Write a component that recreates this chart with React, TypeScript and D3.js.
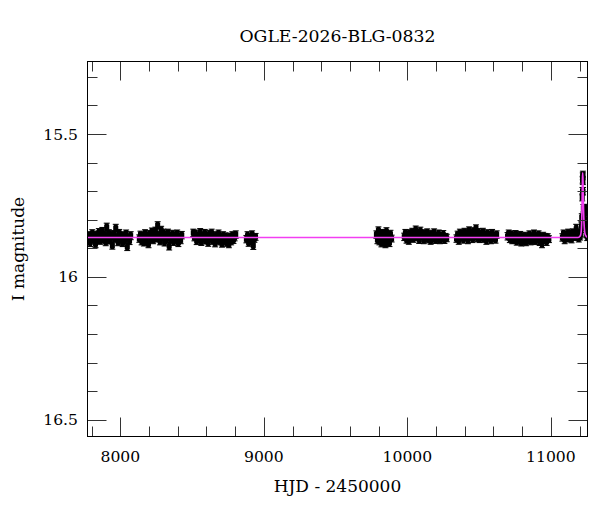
import React from 'react';
import * as d3 from 'd3';

// OGLE photometry, one array per observing season: [HJD-2450000, I mag, error]
const season1 = [
  [7776, 15.872, 0.012], [7783, 15.855, 0.013], [7790, 15.880, 0.014], [7797, 15.862, 0.012],
  [7804, 15.848, 0.013], [7812, 15.870, 0.012], [7819, 15.858, 0.014], [7827, 15.885, 0.013],
  [7834, 15.852, 0.012], [7842, 15.866, 0.013], [7850, 15.845, 0.014], [7858, 15.874, 0.012],
  [7866, 15.860, 0.013], [7874, 15.840, 0.013], [7882, 15.868, 0.014], [7890, 15.852, 0.012],
  [7898, 15.878, 0.013], [7905, 15.826, 0.014], [7912, 15.862, 0.012], [7920, 15.848, 0.013],
  [7928, 15.873, 0.012], [7936, 15.856, 0.014], [7944, 15.890, 0.013], [7952, 15.850, 0.012],
  [7960, 15.866, 0.013], [7968, 15.830, 0.014], [7976, 15.860, 0.012], [7984, 15.878, 0.013],
  [7992, 15.846, 0.012], [8000, 15.868, 0.014], [8008, 15.855, 0.013], [8016, 15.882, 0.012],
  [8024, 15.858, 0.013], [8032, 15.870, 0.014], [8040, 15.848, 0.012], [8048, 15.895, 0.013],
  [8056, 15.862, 0.012], [8064, 15.874, 0.013], [8072, 15.856, 0.014],
];
const season2 = [
  [8132, 15.866, 0.013], [8140, 15.852, 0.012], [8148, 15.874, 0.014], [8156, 15.858, 0.013],
  [8164, 15.880, 0.012], [8172, 15.848, 0.013], [8180, 15.868, 0.014], [8188, 15.856, 0.012],
  [8196, 15.885, 0.013], [8204, 15.850, 0.012], [8212, 15.864, 0.014], [8220, 15.842, 0.013],
  [8228, 15.872, 0.012], [8236, 15.855, 0.013], [8244, 15.840, 0.014], [8252, 15.866, 0.012],
  [8260, 15.820, 0.013], [8268, 15.852, 0.012], [8276, 15.874, 0.014], [8284, 15.836, 0.013],
  [8292, 15.860, 0.012], [8300, 15.846, 0.013], [8308, 15.878, 0.014], [8316, 15.854, 0.012],
  [8324, 15.866, 0.013], [8332, 15.845, 0.012], [8340, 15.892, 0.014], [8348, 15.858, 0.013],
  [8356, 15.870, 0.012], [8364, 15.850, 0.013], [8372, 15.876, 0.014], [8380, 15.856, 0.012],
  [8388, 15.866, 0.013], [8396, 15.848, 0.012], [8404, 15.880, 0.014], [8412, 15.860, 0.013],
  [8420, 15.872, 0.012], [8428, 15.854, 0.013],
];
const season3 = [
  [8508, 15.846, 0.013], [8516, 15.862, 0.012], [8524, 15.850, 0.014], [8532, 15.874, 0.013],
  [8540, 15.856, 0.012], [8548, 15.868, 0.013], [8556, 15.845, 0.014], [8564, 15.878, 0.012],
  [8572, 15.858, 0.013], [8580, 15.866, 0.012], [8588, 15.848, 0.014], [8596, 15.872, 0.013],
  [8604, 15.855, 0.012], [8612, 15.880, 0.013], [8620, 15.852, 0.014], [8628, 15.866, 0.012],
  [8636, 15.846, 0.013], [8644, 15.874, 0.012], [8652, 15.860, 0.014], [8660, 15.882, 0.013],
  [8668, 15.854, 0.012], [8676, 15.870, 0.013], [8684, 15.850, 0.014], [8692, 15.876, 0.012],
  [8700, 15.862, 0.013], [8708, 15.884, 0.012], [8716, 15.856, 0.014], [8724, 15.872, 0.013],
  [8732, 15.858, 0.012], [8740, 15.880, 0.013], [8748, 15.864, 0.014], [8756, 15.886, 0.012],
  [8764, 15.860, 0.013], [8772, 15.876, 0.012], [8780, 15.856, 0.014], [8788, 15.870, 0.013],
  [8796, 15.862, 0.012], [8804, 15.852, 0.013],
];
const season4 = [
  [8878, 15.868, 0.013], [8886, 15.856, 0.014], [8894, 15.880, 0.013], [8902, 15.862, 0.012],
  [8910, 15.874, 0.014], [8918, 15.852, 0.013], [8926, 15.890, 0.014], [8934, 15.866, 0.013],
  [8942, 15.860, 0.012],
];
const season5 = [
  [9784, 15.852, 0.013], [9791, 15.870, 0.014], [9798, 15.838, 0.013], [9805, 15.876, 0.012],
  [9812, 15.858, 0.014], [9819, 15.882, 0.013], [9826, 15.846, 0.012], [9833, 15.868, 0.014],
  [9840, 15.854, 0.013], [9847, 15.886, 0.012], [9854, 15.842, 0.014], [9861, 15.872, 0.013],
  [9868, 15.860, 0.012], [9875, 15.880, 0.014], [9882, 15.850, 0.013], [9890, 15.866, 0.012],
];
const season6 = [
  [9978, 15.860, 0.013], [9986, 15.846, 0.012], [9994, 15.868, 0.014], [10002, 15.852, 0.013],
  [10010, 15.874, 0.012], [10018, 15.848, 0.013], [10026, 15.862, 0.014], [10034, 15.842, 0.012],
  [10042, 15.866, 0.013], [10050, 15.850, 0.012], [10058, 15.836, 0.014], [10066, 15.860, 0.013],
  [10074, 15.846, 0.012], [10082, 15.870, 0.013], [10090, 15.840, 0.014], [10098, 15.858, 0.012],
  [10106, 15.848, 0.013], [10114, 15.872, 0.012], [10122, 15.852, 0.014], [10130, 15.864, 0.013],
  [10138, 15.844, 0.012], [10146, 15.868, 0.013], [10154, 15.856, 0.014], [10162, 15.874, 0.012],
  [10170, 15.850, 0.013], [10178, 15.862, 0.012], [10186, 15.846, 0.014], [10194, 15.870, 0.013],
  [10202, 15.856, 0.012], [10210, 15.866, 0.013], [10218, 15.850, 0.014], [10226, 15.872, 0.012],
  [10234, 15.858, 0.013], [10242, 15.866, 0.012], [10250, 15.852, 0.014], [10258, 15.870, 0.013],
  [10266, 15.860, 0.012], [10274, 15.864, 0.013],
];
const season7 = [
  [10342, 15.866, 0.013], [10350, 15.852, 0.012], [10358, 15.872, 0.014], [10366, 15.846, 0.013],
  [10374, 15.862, 0.012], [10382, 15.850, 0.013], [10390, 15.868, 0.014], [10398, 15.842, 0.012],
  [10406, 15.860, 0.013], [10414, 15.848, 0.012], [10422, 15.870, 0.014], [10430, 15.838, 0.013],
  [10438, 15.858, 0.012], [10446, 15.846, 0.013], [10454, 15.866, 0.014], [10462, 15.840, 0.012],
  [10470, 15.856, 0.013], [10478, 15.830, 0.012], [10486, 15.862, 0.014], [10494, 15.844, 0.013],
  [10502, 15.868, 0.012], [10510, 15.850, 0.013], [10518, 15.860, 0.014], [10526, 15.842, 0.012],
  [10534, 15.866, 0.013], [10542, 15.852, 0.012], [10550, 15.872, 0.014], [10558, 15.848, 0.013],
  [10566, 15.862, 0.012], [10574, 15.854, 0.013], [10582, 15.870, 0.014], [10590, 15.846, 0.012],
  [10598, 15.864, 0.013], [10606, 15.856, 0.012], [10614, 15.868, 0.014], [10622, 15.852, 0.013],
];
const season8 = [
  [10698, 15.858, 0.013], [10706, 15.848, 0.012], [10714, 15.866, 0.014], [10722, 15.852, 0.013],
  [10730, 15.872, 0.012], [10738, 15.856, 0.013], [10746, 15.868, 0.014], [10754, 15.850, 0.012],
  [10762, 15.876, 0.013], [10770, 15.858, 0.012], [10778, 15.870, 0.014], [10786, 15.854, 0.013],
  [10794, 15.880, 0.012], [10802, 15.860, 0.013], [10810, 15.872, 0.014], [10818, 15.856, 0.012],
  [10826, 15.878, 0.013], [10834, 15.862, 0.012], [10842, 15.870, 0.014], [10850, 15.852, 0.013],
  [10858, 15.876, 0.012], [10866, 15.860, 0.013], [10874, 15.868, 0.014], [10882, 15.848, 0.012],
  [10890, 15.874, 0.013], [10898, 15.858, 0.012], [10906, 15.866, 0.014], [10914, 15.852, 0.013],
  [10922, 15.878, 0.012], [10930, 15.862, 0.013], [10938, 15.884, 0.014], [10946, 15.856, 0.012],
  [10954, 15.870, 0.013], [10962, 15.860, 0.012], [10970, 15.876, 0.014], [10978, 15.862, 0.013],
  [10986, 15.868, 0.012],
];
const season9 = [
  [11080, 15.862, 0.013], [11088, 15.848, 0.012], [11096, 15.870, 0.014], [11104, 15.854, 0.013],
  [11112, 15.866, 0.012], [11120, 15.846, 0.013], [11128, 15.862, 0.014], [11136, 15.850, 0.012],
  [11144, 15.868, 0.013], [11152, 15.844, 0.012], [11160, 15.858, 0.014], [11168, 15.852, 0.013],
  [11176, 15.832, 0.016], [11182, 15.860, 0.012], [11188, 15.848, 0.013], [11194, 15.864, 0.014],
  [11199, 15.852, 0.012], [11204, 15.858, 0.013], [11208, 15.845, 0.013], [11212, 15.822, 0.014],
  [11215, 15.792, 0.013], [11218, 15.722, 0.012], [11220, 15.700, 0.013], [11221, 15.660, 0.012],
  [11222, 15.648, 0.012], [11222.5, 15.664, 0.013], [11223, 15.642, 0.012], [11224, 15.700, 0.013],
  [11226, 15.760, 0.013], [11230, 15.800, 0.014], [11236, 15.780, 0.013], [11238, 15.760, 0.014],
  [11240, 15.805, 0.013], [11242, 15.830, 0.014], [11246, 15.850, 0.013], [11250, 15.822, 0.014],
  [11253, 15.860, 0.013],
];

// microlensing model: [HJD-2450000, I mag]
const modelHjd = [7771, 11190, 11205, 11211, 11214, 11216, 11218, 11220, 11222, 11224, 11226, 11229, 11233, 11238, 11246, 11255];
const modelMag = [15.862, 15.862, 15.856, 15.842, 15.815, 15.775, 15.71, 15.655, 15.636, 15.67, 15.73, 15.79, 15.83, 15.85, 15.858, 15.861];

const title = 'OGLE-2026-BLG-0832';
const xTitle = 'HJD - 2450000';
const yTitle = 'I magnitude';
const xTicks = [8000, 9000, 10000, 11000];
const yTicks = [15.5, 16, 16.5];

const W = 600, H = 512;
const L = 87.5, R = 587.5, T = 61.5, B = 436.5;
const FONT = '"DejaVu Serif", serif';

const App: React.FC = () => {
  const x = d3.scaleLinear().domain([7771, 11255]).range([L, R]);
  const y = d3.scaleLinear().domain([15.246, 16.559]).range([T, B]);

  const points = [season1, season2, season3, season4, season5, season6, season7, season8, season9].flat();
  const model = modelHjd.map((h, i) => [h, modelMag[i]] as [number, number]);
  const line = d3.line<[number, number]>()
    .curve(d3.curveMonotoneX)
    .x(d => x(d[0]))
    .y(d => y(d[1]));

  const xMinor = d3.range(7800, 11255, 200);
  const yMinor = d3.range(15.3, 16.56, 0.1).map(v => +v.toFixed(2));
  const tickColor = '#333';

  return (
    <svg width={W} height={H} style={{ position: 'absolute', left: 0, top: 0, background: '#fff' }}>
      <defs>
        <clipPath id="plot-clip">
          <rect x={L} y={T} width={R - L} height={B - T} />
        </clipPath>
      </defs>

      <g clipPath="url(#plot-clip)">
        {points.map((p, i) => {
          const cx = x(p[0]);
          const y0 = y(p[1] - p[2]);
          const y1 = y(p[1] + p[2]);
          return (
            <g key={i} fill="#000">
              {/* thick error bar with caps, as in the dense OGLE plots */}
              <rect x={cx - 2} y={y0} width={4} height={y1 - y0} />
              <rect x={cx - 3} y={y0 - 0.5} width={6} height={1} />
              <rect x={cx - 3} y={y1 - 0.5} width={6} height={1} />
              <rect x={cx - 2.5} y={y(p[1]) - 2.5} width={5} height={5} />
            </g>
          );
        })}
        <path d={line(model) || ''} fill="none" stroke="#f23ef2" strokeWidth={1.6} />
      </g>

      {/* ticks on all four sides */}
      <g stroke={tickColor} strokeWidth={1}>
        {xMinor.map(v => {
          const major = xTicks.includes(v);
          const len = major ? 19 : 10;
          const px = Math.round(x(v)) + 0.5;
          return (
            <g key={'x' + v}>
              <line x1={px} x2={px} y1={B} y2={B - len} />
              <line x1={px} x2={px} y1={T} y2={T + len} />
            </g>
          );
        })}
        {yMinor.map(v => {
          const major = yTicks.some(t => Math.abs(t - v) < 1e-6);
          const len = major ? 19 : 10;
          const py = Math.round(y(v)) + 0.5;
          return (
            <g key={'y' + v}>
              <line x1={L} x2={L + len} y1={py} y2={py} />
              <line x1={R} x2={R - len} y1={py} y2={py} />
            </g>
          );
        })}
      </g>

      <rect x={L} y={T} width={R - L} height={B - T} fill="none" stroke="#000" strokeWidth={1} />

      <g fontFamily={FONT} fontSize={15.6} fill="#000">
        {xTicks.map(v => (
          <text key={v} x={x(v)} y={462} textAnchor="middle">{String(v)}</text>
        ))}
        {yTicks.map(v => (
          <text key={v} x={78} y={y(v) + 5.5} textAnchor="end">{String(v)}</text>
        ))}
      </g>

      <text x={(L + R) / 2} y={41.5} textAnchor="middle" fontFamily={FONT} fontSize={17.3}>{title}</text>
      <text x={(L + R) / 2} y={491.5} textAnchor="middle" fontFamily={FONT} fontSize={17}>{xTitle}</text>
      <text transform={`translate(23.5, ${(T + B) / 2}) rotate(-90)`} textAnchor="middle" fontFamily={FONT} fontSize={17}>{yTitle}</text>
    </svg>
  );
};

export default App;
